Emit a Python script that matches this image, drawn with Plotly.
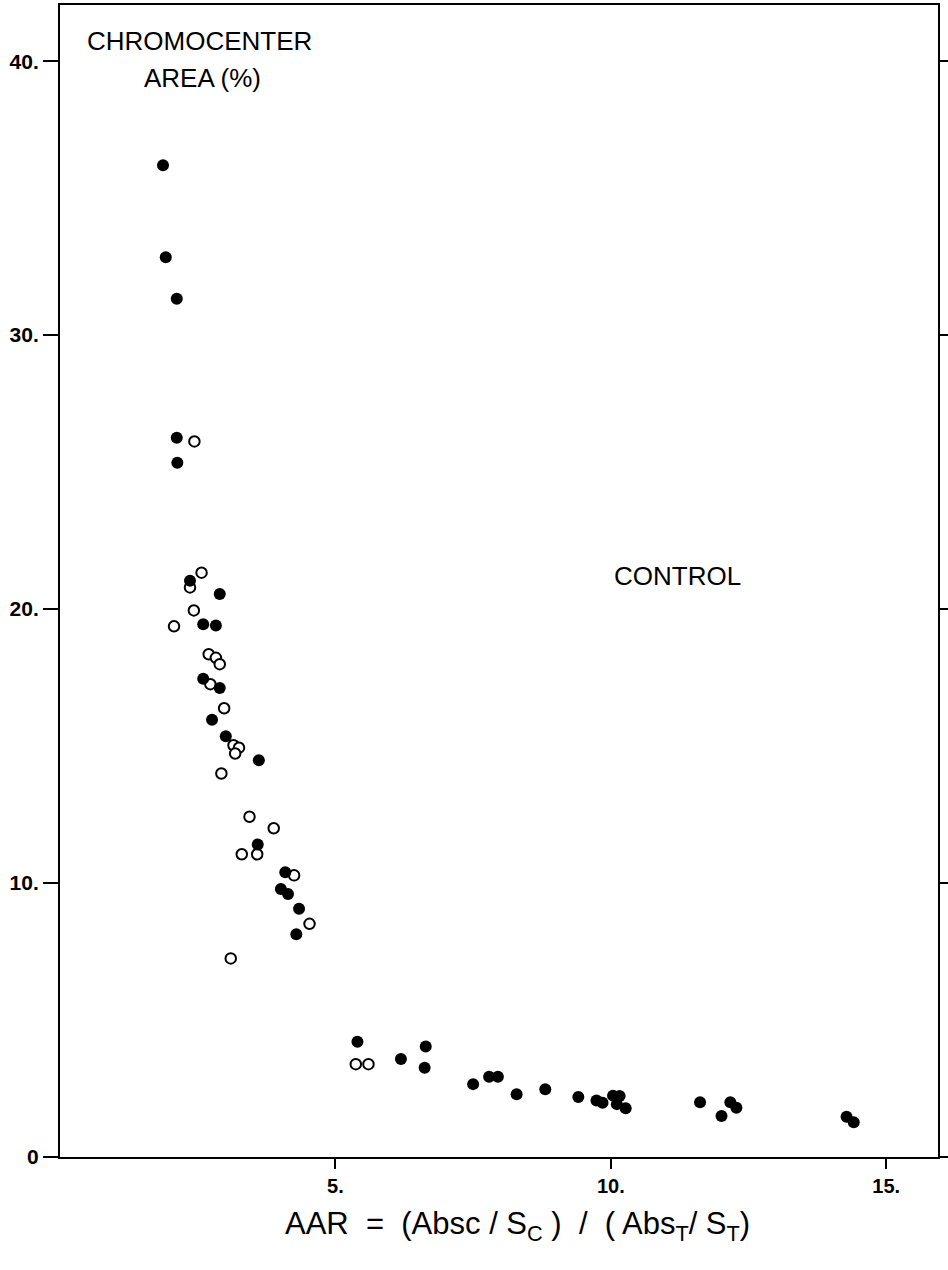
import plotly.graph_objects as go

# Filled circles
filled_x = [1.87, 1.92, 2.12, 2.12, 2.13, 2.36, 2.90, 2.60, 2.83, 2.60, 2.90, 2.76, 3.01, 3.61,
            3.59, 4.09, 4.01, 4.14, 4.34, 4.29,
            5.40, 6.19, 6.64, 6.62, 7.50, 7.79, 7.95, 8.29, 8.81, 9.41, 9.74, 9.85,
            10.04, 10.16, 10.11, 10.27, 11.62, 12.17, 12.28, 12.01, 14.28, 14.41]
filled_y = [36.2, 32.84, 31.33, 26.25, 25.34, 21.03, 20.55, 19.45, 19.40, 17.46, 17.12, 15.96, 15.36, 14.48,
            11.41, 10.39, 9.78, 9.60, 9.06, 8.13,
            4.21, 3.58, 4.03, 3.26, 2.66, 2.93, 2.93, 2.29, 2.47, 2.19, 2.06, 1.98,
            2.24, 2.23, 1.93, 1.78, 2.00, 2.00, 1.80, 1.50, 1.47, 1.27]

# Open circles
open_x = [2.44, 2.57, 2.36, 2.43, 2.07, 2.70, 2.83, 2.90, 2.73, 2.98, 3.15, 3.25, 3.18,
          2.93, 3.44, 3.88, 3.30, 3.58, 4.25, 4.53, 3.10, 5.37, 5.60]
open_y = [26.12, 21.33, 20.79, 19.95, 19.37, 18.35, 18.22, 17.99, 17.26, 16.38, 15.03, 14.94, 14.73,
          14.00, 12.42, 12.00, 11.05, 11.05, 10.28, 8.51, 7.25, 3.39, 3.39]

y_ticks = [0, 10, 20, 30, 40]
y_tick_text = ["0", "10.", "20.", "30.", "40."]
x_ticks = [5, 10, 15]
x_tick_text = ["5.", "10.", "15."]

FONT = "Liberation Sans, Arial, sans-serif"

fig = go.Figure()
fig.add_trace(go.Scatter(
    x=open_x, y=open_y, mode="markers",
    marker=dict(symbol="circle", size=10.5, color="white", line=dict(color="black", width=2)),
    showlegend=False, hoverinfo="skip"))
fig.add_trace(go.Scatter(
    x=filled_x, y=filled_y, mode="markers",
    marker=dict(symbol="circle", size=12, color="black", line=dict(width=0)),
    showlegend=False, hoverinfo="skip"))

fig.update_layout(
    width=948, height=1270,
    margin=dict(l=60, r=10, t=5, b=113, autoexpand=False),
    paper_bgcolor="white", plot_bgcolor="white",
    font=dict(family=FONT, color="black"),
    xaxis=dict(range=[0, 15.94], tickvals=x_ticks, ticktext=x_tick_text,
               ticks="outside", ticklen=10, tickwidth=2, tickcolor="black",
               showline=True, linecolor="black", linewidth=2, mirror=True,
               showgrid=False, zeroline=False, automargin=False,
               tickfont=dict(size=20, family=FONT, color="black", weight="bold")),
    yaxis=dict(range=[0, 42.05], tickvals=y_ticks, ticktext=y_tick_text,
               ticks="outside", ticklen=15, tickwidth=2, tickcolor="black",
               showline=True, linecolor="black", linewidth=2, mirror="ticks",
               showgrid=False, zeroline=False, automargin=False,
               tickfont=dict(size=21, family=FONT, color="black", weight="bold")),
)

annots = [
    dict(text="CHROMOCENTER", x=0.1585, y=0.9685),
    dict(text="AREA (%)", x=0.162, y=0.9365),
    dict(text="CONTROL", x=0.703, y=0.5043),
]
for a in annots:
    fig.add_annotation(text=a["text"], x=a["x"], y=a["y"], xref="paper", yref="paper",
                       xanchor="center", yanchor="middle", showarrow=False,
                       font=dict(size=26, family=FONT, color="black"))

fig.add_annotation(text="AAR\u00a0 = \u00a0(Absc / S<sub>C</sub> ) \u00a0/ \u00a0( Abs<sub>T</sub>/ S<sub>T</sub>)",
                   x=(517 - 60) / 878, y=(1157 - 1226) / 1152, xref="paper", yref="paper",
                   xanchor="center", yanchor="middle", showarrow=False,
                   font=dict(size=31, family=FONT, color="black"))

fig.write_html("out.html", config={"displayModeBar": False},
               post_script="document.body.style.margin='0';")
